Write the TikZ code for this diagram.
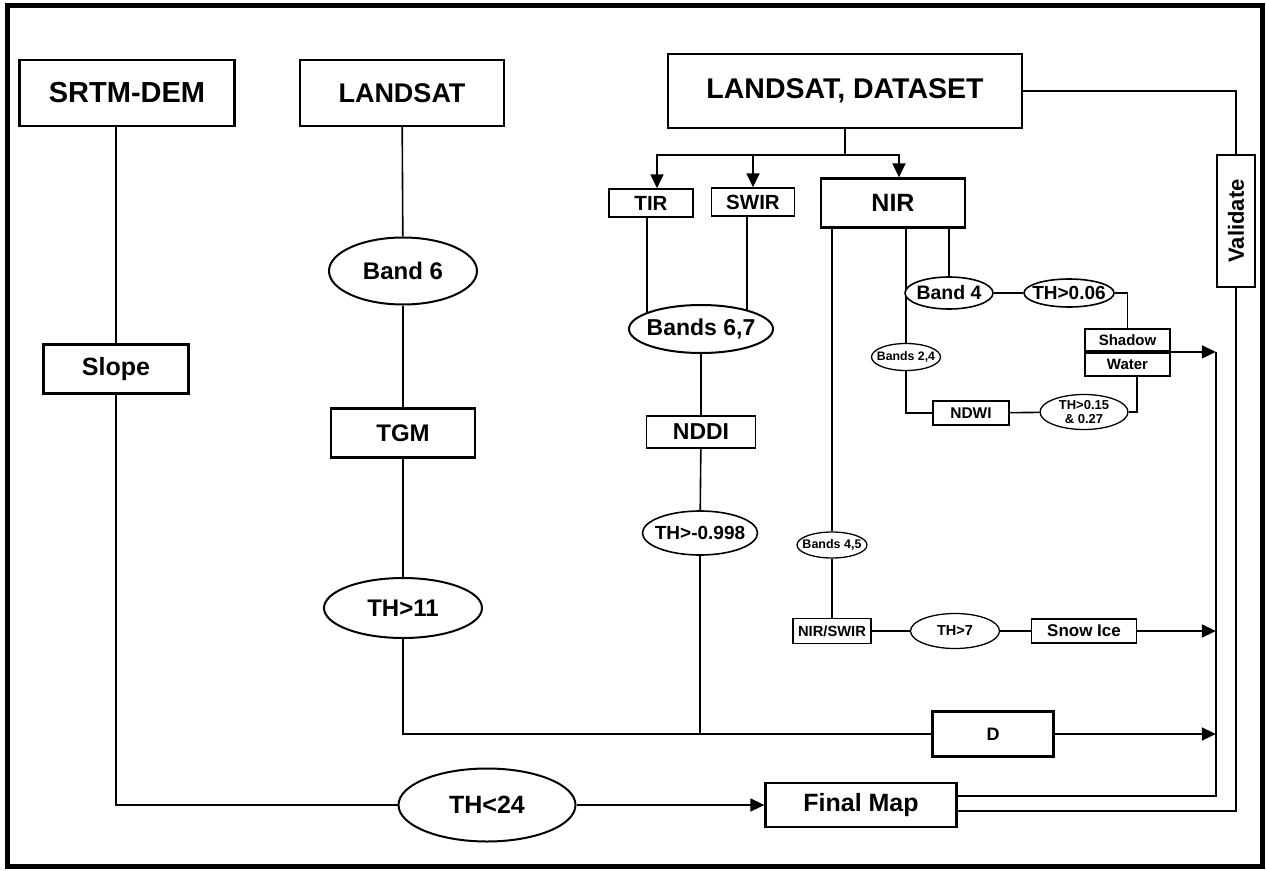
\documentclass[tikz,border=0pt]{standalone}
\usepackage{fontspec}
\setmainfont{Liberation Sans}
\usetikzlibrary{shapes.geometric,arrows.meta,positioning,backgrounds}
\newcommand{\fsz}[1]{\fontsize{#1}{#1}\selectfont\bfseries}

\begin{document}
\begin{tikzpicture}[
    x=1pt,y=-1pt,
    box/.style={draw,fill=white,line width=2.3pt,inner sep=0pt,align=center},
    thinbox/.style={draw,fill=white,line width=1.4pt,inner sep=0pt,align=center},
    tight/.style={execute at begin node={\setbox0=\hbox\bgroup},execute at end node={\egroup\hbox to 0pt{\hss\box0\hss}}},
    oval/.style={ellipse,draw,fill=white,line width=2pt,inner sep=0pt,tight},
    thinoval/.style={ellipse,draw,fill=white,line width=1.3pt,inner sep=0pt,tight},
    arrow/.style={-{Triangle[length=14pt,width=13pt]},line width=1.6pt},
    wire/.style={line width=1.6pt}
  ]
    \useasboundingbox (0,0) rectangle (1266,870);
    \draw[line width=5pt] (7.5,5.5) rectangle (1262.5,866.5);

    % sources
    \node[box,minimum width=215pt,minimum height=66pt,font=\fsz{29}] (srtm) at (127,93) {SRTM-DEM};
    \node[box,minimum width=204pt,minimum height=66pt,font=\fsz{27}] (landsat) at (402,93) {LANDSAT};
    \node[box,minimum width=354pt,minimum height=74pt,font=\fsz{28.5}] (lds) at (845,91) {LANDSAT, DATASET};
    \node[box,rotate=90,minimum width=132pt,minimum height=38pt,font=\fsz{22}] (validate) at (1236,221) {Validate};

    % slope and temperature
    \node[box,minimum width=145pt,minimum height=49pt,font=\fsz{25}] (slope) at (116,369) {Slope};
    \node[oval,minimum width=148pt,minimum height=67pt,font=\fsz{24}] (band6) at (403,271) {Band 6};
    \node[box,minimum width=144pt,minimum height=49pt,font=\fsz{24}] (tgm) at (403,433) {TGM};
    \node[oval,minimum width=158pt,minimum height=60pt,font=\fsz{24}] (th11) at (403,608) {TH>11};
    \node[oval,minimum width=177pt,minimum height=73pt,font=\fsz{25}] (th24) at (487,805) {TH<24};
    \node[box,minimum width=191pt,minimum height=44pt,font=\fsz{25}] (final) at (861,805) {Final Map};

    % bands
    \node[thinbox,minimum width=84pt,minimum height=28pt,font=\fsz{20.5}] (tir) at (651,203) {TIR};
    \node[thinbox,minimum width=83pt,minimum height=28pt,font=\fsz{20.5}] (swir) at (753,202) {SWIR};
    \node[box,minimum width=144pt,minimum height=49pt,font=\fsz{25}] (nir) at (893,203) {NIR};
    \node[oval,minimum width=144pt,minimum height=48pt,font=\fsz{23}] (b67) at (701,329) {Bands 6,7};
    \node[box,line width=1.8pt,minimum width=109pt,minimum height=32pt,font=\fsz{23}] (nddi) at (701,432) {NDDI};
    \node[oval,line width=1.6pt,minimum width=115pt,minimum height=44pt,font=\fsz{19}] (th998) at (700,533) {TH>-0.998};

    % water and shadow
    \node[oval,line width=1.6pt,minimum width=88pt,minimum height=32pt,font=\fsz{19.5}] (band4) at (949,293) {Band 4};
    \node[oval,line width=1.6pt,minimum width=90pt,minimum height=28pt,font=\fsz{19}] (th006) at (1069,293) {TH>0.06};
    \node[box,line width=1.8pt,minimum width=85pt,minimum height=22pt,font=\fsz{15}] (shadow) at (1127.5,340) {Shadow};
    \node[box,line width=1.8pt,minimum width=85pt,minimum height=23pt,font=\fsz{15},below=0pt of shadow] (water) {Water};
    \node[thinoval,minimum width=69pt,minimum height=27pt,font=\fsz{12.3}] (b24) at (906,357) {Bands 2,4};
    \node[thinbox,minimum width=76pt,minimum height=24pt,font=\fsz{15.5}] (ndwi) at (971,413) {NDWI};
    \node[ellipse,draw,fill=white,line width=1.3pt,inner sep=0pt,align=center,minimum width=88pt,minimum height=35pt,
      font={\fontsize{13}{13.5}\selectfont\bfseries}] (th015) at (1084,412) {TH>0.15\\\& 0.27};

    % snow and ice
    \node[thinoval,minimum width=70pt,minimum height=26pt,font=\fsz{12.5}] (b45) at (832,545) {Bands 4,5};
    \node[thinbox,minimum width=78pt,minimum height=25pt,font=\fsz{14.7}] (nirswir) at (832,631) {NIR/SWIR};
    \node[thinoval,minimum width=89pt,minimum height=35pt,font=\fsz{14.5}] (th7) at (955,631) {TH>7};
    \node[box,line width=1.9pt,minimum width=105pt,minimum height=24pt,font=\fsz{17}] (snow) at (1084,631) {Snow Ice};
    \node[box,minimum width=121pt,minimum height=45pt,font=\fsz{18}] (dbox) at (993,734) {D};

    \coordinate (merge) at (validate.north |- shadow.south east);

    \begin{scope}[on background layer]
      % srtm / landsat
      \draw[wire] (slope.north |- srtm.south) -- (slope.north);
      \draw[wire] (slope.south) |- (th24.west);
      \draw[arrow] (th24) -- (final);
      \draw[wire] (landsat) -- (band6);
      \draw[wire] (band6) -- (tgm);
      \draw[wire] (tgm) -- (th11);
      \draw[wire] (th11.south) |- (dbox.west);

      % dataset split
      \draw[wire] (lds.south) -- ++(0,26) coordinate (split);
      \draw[arrow] (split) -| ([xshift=6pt]tir.north);
      \draw[arrow] (split) -| (swir.north);
      \draw[arrow] (split) -| ([xshift=6pt]nir.north);
      \draw[wire] ([xshift=-4pt]tir.south) -- ([xshift=-4pt]tir.south |- b67.center);
      \draw[wire] ([xshift=-6pt]swir.south) -- ([xshift=-6pt]swir.south |- b67.center);
      \draw[wire] (b67) -- (nddi);
      \draw[wire] (nddi) -- (th998);
      \draw[wire] (th998.south) -- (th998.south |- dbox.west);
      \draw[arrow] (dbox.east) -- (dbox.east -| merge);

      % nir branches
      \draw[wire] ([xshift=-61pt]nir.south) -- (b45);
      \draw[wire] ([xshift=13pt]nir.south) -- (b24);
      \draw[wire] ([xshift=56pt]nir.south) -- (band4);
      \draw[wire] (band4) -- (th006);
      \draw[wire] (th006) -| (shadow.north);
      \draw[wire] (b24) |- (ndwi);
      \draw[wire] (ndwi) -- (th015);
      \draw[wire] (th015) -| ([xshift=9.5pt]water.south);
      \draw[arrow] (shadow.south east) -- (merge);
      \draw[wire] (b45) -- (nirswir);
      \draw[wire] (nirswir) -- (th7);
      \draw[wire] (th7) -- (snow);
      \draw[arrow] (snow) -- (snow -| merge);

      % validation
      \draw[wire] (lds) -| (validate.east);
      \draw[wire] ([yshift=9pt]final.east) -| (merge);
      \draw[wire] ([yshift=-6pt]final.east) -| (validate.west);
    \end{scope}
  \end{tikzpicture}
\end{document}
